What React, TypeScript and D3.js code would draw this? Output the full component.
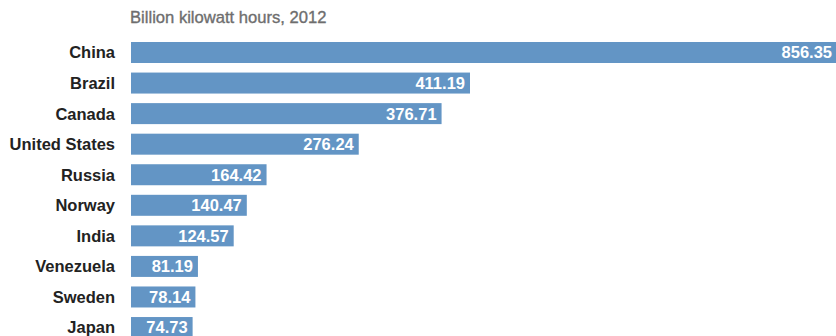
import React from "react";
import * as d3 from "d3";

const countries = ["China", "Brazil", "Canada", "United States", "Russia", "Norway", "India", "Venezuela", "Sweden", "Japan"];
const values = [856.35, 411.19, 376.71, 276.24, 164.42, 140.47, 124.57, 81.19, 78.14, 74.73];
const title = "Billion kilowatt hours, 2012";

const W = 836;
const H = 336;

export default function App() {
  const x = d3.scaleLinear().domain([0, d3.max(values) as number]).range([131, 837]);
  const step = 30.56;
  const pad = 0.313;
  const r0 = 42 - (step * pad) / 2;
  const y = d3
    .scaleBand<string>()
    .domain(countries)
    .range([r0, r0 + step * countries.length])
    .paddingInner(pad)
    .paddingOuter(pad / 2);
  const font = "'Liberation Sans', Arial, Helvetica, sans-serif";
  return (
    <svg
      width={W}
      height={H}
      style={{ position: "absolute", left: 0, top: 0, background: "#fff" }}
      fontFamily={font}
    >
      <text x={130} y={22.5} fontSize={16.6} fill="#6e6e6e" stroke="#6e6e6e" strokeWidth={0.35}>
        {title}
      </text>
      {countries.map((c, i) => {
        const yy = y(c) as number;
        const bw = y.bandwidth();
        return (
          <g key={c}>
            <rect x={x(0)} y={yy} width={x(values[i]) - x(0)} height={bw} fill="#6395c5" />
            <text
              x={115}
              y={yy + bw / 2}
              dy="0.36em"
              textAnchor="end"
              fontSize={16.5}
              fontWeight="bold"
              fill="#222"
            >
              {c}
            </text>
            <text
              x={x(values[i]) - 5}
              y={yy + bw / 2}
              dy="0.36em"
              textAnchor="end"
              fontSize={16.5}
              fontWeight="bold"
              fill="#fff"
            >
              {values[i].toFixed(2)}
            </text>
          </g>
        );
      })}
    </svg>
  );
}
